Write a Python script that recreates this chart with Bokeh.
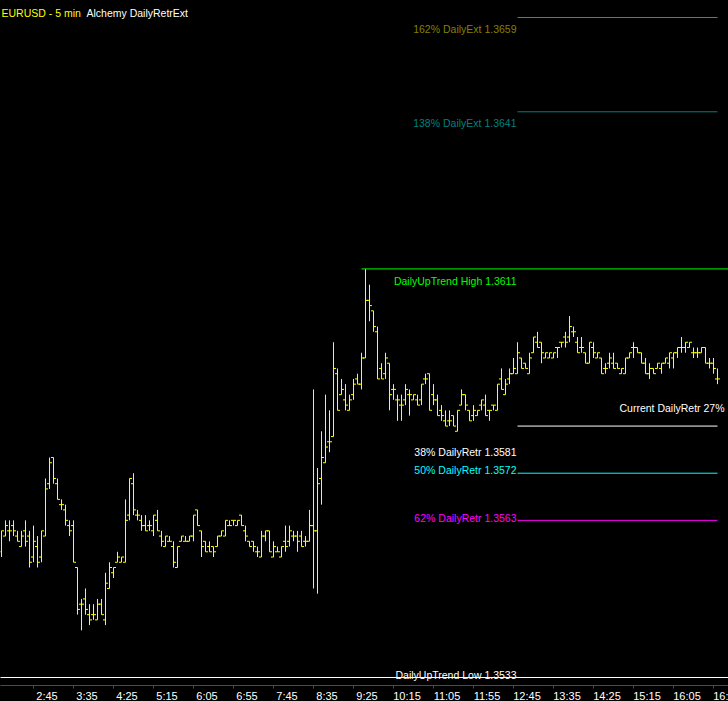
import pandas as pd
from bokeh.plotting import figure
from bokeh.models import ColumnDataSource, FixedTicker, LinearAxis, Range1d, CustomLabelingPolicy
from bokeh.core.properties import value
from bokeh.embed import file_html
from bokeh.resources import INLINE

# ---------------- data ----------------
symbol_title = "EURUSD - 5 min"
indicator_title = "Alchemy DailyRetrExt"
session_start = "2000-01-01 02:05"
bar_minutes = 5

opens = [
    1.3557, 1.3560, 1.3561, 1.3562, 1.3560, 1.3558, 1.3561, 1.3560, 1.3556, 1.3558,
    1.3556, 1.3560, 1.3570, 1.3575, 1.3570, 1.3566, 1.3565, 1.3562, 1.3562, 1.3554,
    1.3547, 1.3548, 1.3545, 1.3545, 1.3544, 1.3547, 1.3544, 1.3550, 1.3553, 1.3555,
    1.3555, 1.3555, 1.3564, 1.3570, 1.3564, 1.3563, 1.3562, 1.3562, 1.3561, 1.3563,
    1.3560, 1.3558, 1.3559, 1.3558, 1.3554, 1.3559, 1.3559, 1.3559, 1.3560, 1.3565,
    1.3561, 1.3559, 1.3558, 1.3558, 1.3558, 1.3560, 1.3560, 1.3562, 1.3563, 1.3562,
    1.3564, 1.3561, 1.3559, 1.3559, 1.3557, 1.3556, 1.3560, 1.3561, 1.3556, 1.3557,
    1.3556, 1.3559, 1.3559, 1.3560, 1.3560, 1.3560, 1.3559, 1.3559, 1.3562, 1.3561,
    1.3571, 1.3574, 1.3578, 1.3579, 1.3591, 1.3587, 1.3586, 1.3584, 1.3587, 1.3590,
    1.3589, 1.3594, 1.3605, 1.3603, 1.3599, 1.3592, 1.3591, 1.3593, 1.3588, 1.3586,
    1.3585, 1.3586, 1.3587, 1.3586, 1.3586, 1.3586, 1.3590, 1.3591, 1.3587, 1.3586,
    1.3584, 1.3582, 1.3582, 1.3583, 1.3580, 1.3585, 1.3587, 1.3584, 1.3583, 1.3583,
    1.3585, 1.3585, 1.3584, 1.3585, 1.3584, 1.3590, 1.3587, 1.3590, 1.3591, 1.3591,
    1.3594, 1.3593, 1.3591, 1.3595, 1.3597, 1.3597, 1.3594, 1.3594, 1.3594, 1.3596,
    1.3597, 1.3598, 1.3598, 1.3599, 1.3597, 1.3596, 1.3595, 1.3593, 1.3596, 1.3594,
    1.3594, 1.3592, 1.3593, 1.3593, 1.3593, 1.3591, 1.3591, 1.3594, 1.3596, 1.3596,
    1.3595, 1.3593, 1.3591, 1.3592, 1.3592, 1.3592, 1.3593, 1.3593, 1.3594, 1.3595,
    1.3596, 1.3596, 1.3596, 1.3595, 1.3595, 1.3595, 1.3596, 1.3593, 1.3593, 1.3590,
]
highs = [
    1.3561, 1.3563, 1.3563, 1.3563, 1.3561, 1.3561, 1.3563, 1.3561, 1.3562, 1.3560,
    1.3561, 1.3571, 1.3575, 1.3575, 1.3571, 1.3567, 1.3566, 1.3563, 1.3563, 1.3554,
    1.3548, 1.3550, 1.3547, 1.3547, 1.3548, 1.3548, 1.3553, 1.3555, 1.3554, 1.3557,
    1.3556, 1.3567, 1.3571, 1.3572, 1.3565, 1.3564, 1.3564, 1.3563, 1.3564, 1.3565,
    1.3561, 1.3560, 1.3560, 1.3559, 1.3558, 1.3560, 1.3560, 1.3560, 1.3564, 1.3565,
    1.3561, 1.3559, 1.3559, 1.3558, 1.3560, 1.3561, 1.3563, 1.3563, 1.3563, 1.3563,
    1.3564, 1.3562, 1.3559, 1.3559, 1.3558, 1.3561, 1.3561, 1.3561, 1.3559, 1.3558,
    1.3558, 1.3562, 1.3562, 1.3561, 1.3561, 1.3561, 1.3560, 1.3565, 1.3588, 1.3573,
    1.3580, 1.3587, 1.3584, 1.3597, 1.3592, 1.3590, 1.3589, 1.3587, 1.3590, 1.3591,
    1.3595, 1.3611, 1.3608, 1.3603, 1.3600, 1.3593, 1.3595, 1.3593, 1.3589, 1.3587,
    1.3587, 1.3589, 1.3588, 1.3587, 1.3587, 1.3589, 1.3591, 1.3591, 1.3589, 1.3587,
    1.3585, 1.3584, 1.3584, 1.3583, 1.3584, 1.3588, 1.3587, 1.3584, 1.3585, 1.3584,
    1.3586, 1.3587, 1.3584, 1.3585, 1.3589, 1.3592, 1.3590, 1.3592, 1.3594, 1.3597,
    1.3594, 1.3593, 1.3595, 1.3598, 1.3599, 1.3597, 1.3595, 1.3595, 1.3595, 1.3596,
    1.3597, 1.3599, 1.3602, 1.3600, 1.3598, 1.3598, 1.3595, 1.3597, 1.3597, 1.3595,
    1.3594, 1.3593, 1.3595, 1.3595, 1.3593, 1.3592, 1.3594, 1.3595, 1.3597, 1.3596,
    1.3595, 1.3594, 1.3593, 1.3592, 1.3593, 1.3593, 1.3594, 1.3595, 1.3595, 1.3596,
    1.3598, 1.3597, 1.3597, 1.3596, 1.3596, 1.3596, 1.3596, 1.3594, 1.3594, 1.3592,
]
lows = [
    1.3556, 1.3560, 1.3559, 1.3560, 1.3559, 1.3558, 1.3558, 1.3554, 1.3555, 1.3554,
    1.3555, 1.3560, 1.3569, 1.3570, 1.3567, 1.3565, 1.3562, 1.3560, 1.3555, 1.3545,
    1.3542, 1.3545, 1.3543, 1.3544, 1.3544, 1.3545, 1.3543, 1.3550, 1.3552, 1.3555,
    1.3555, 1.3555, 1.3563, 1.3564, 1.3563, 1.3561, 1.3561, 1.3561, 1.3560, 1.3561,
    1.3558, 1.3558, 1.3559, 1.3554, 1.3554, 1.3559, 1.3559, 1.3559, 1.3559, 1.3562,
    1.3556, 1.3557, 1.3557, 1.3556, 1.3558, 1.3560, 1.3560, 1.3562, 1.3562, 1.3562,
    1.3562, 1.3559, 1.3558, 1.3557, 1.3556, 1.3556, 1.3559, 1.3557, 1.3556, 1.3557,
    1.3556, 1.3557, 1.3558, 1.3559, 1.3557, 1.3558, 1.3558, 1.3559, 1.3550, 1.3549,
    1.3566, 1.3574, 1.3576, 1.3579, 1.3584, 1.3587, 1.3584, 1.3584, 1.3586, 1.3589,
    1.3588, 1.3594, 1.3601, 1.3599, 1.3590, 1.3590, 1.3590, 1.3584, 1.3586, 1.3582,
    1.3582, 1.3585, 1.3583, 1.3586, 1.3585, 1.3585, 1.3589, 1.3584, 1.3585, 1.3583,
    1.3582, 1.3581, 1.3581, 1.3581, 1.3580, 1.3585, 1.3584, 1.3582, 1.3582, 1.3583,
    1.3584, 1.3583, 1.3582, 1.3584, 1.3584, 1.3588, 1.3587, 1.3589, 1.3591, 1.3591,
    1.3592, 1.3592, 1.3591, 1.3595, 1.3596, 1.3593, 1.3594, 1.3594, 1.3594, 1.3594,
    1.3596, 1.3596, 1.3597, 1.3598, 1.3595, 1.3595, 1.3593, 1.3593, 1.3594, 1.3594,
    1.3591, 1.3591, 1.3592, 1.3592, 1.3592, 1.3591, 1.3591, 1.3594, 1.3594, 1.3595,
    1.3593, 1.3591, 1.3590, 1.3591, 1.3592, 1.3591, 1.3593, 1.3592, 1.3592, 1.3594,
    1.3595, 1.3595, 1.3596, 1.3594, 1.3594, 1.3595, 1.3593, 1.3592, 1.3591, 1.3589,
]
closes = [
    1.3561, 1.3562, 1.3561, 1.3561, 1.3559, 1.3560, 1.3559, 1.3555, 1.3559, 1.3555,
    1.3561, 1.3569, 1.3574, 1.3571, 1.3567, 1.3566, 1.3563, 1.3561, 1.3555, 1.3546,
    1.3547, 1.3546, 1.3544, 1.3545, 1.3547, 1.3545, 1.3551, 1.3554, 1.3554, 1.3556,
    1.3556, 1.3563, 1.3571, 1.3565, 1.3564, 1.3562, 1.3561, 1.3562, 1.3564, 1.3561,
    1.3559, 1.3560, 1.3559, 1.3555, 1.3558, 1.3560, 1.3559, 1.3560, 1.3564, 1.3562,
    1.3558, 1.3557, 1.3557, 1.3557, 1.3560, 1.3561, 1.3563, 1.3562, 1.3563, 1.3563,
    1.3562, 1.3560, 1.3558, 1.3558, 1.3557, 1.3560, 1.3561, 1.3557, 1.3558, 1.3557,
    1.3558, 1.3558, 1.3561, 1.3560, 1.3559, 1.3558, 1.3559, 1.3562, 1.3561, 1.3570,
    1.3575, 1.3577, 1.3578, 1.3592, 1.3584, 1.3588, 1.3585, 1.3586, 1.3589, 1.3589,
    1.3594, 1.3605, 1.3604, 1.3600, 1.3590, 1.3590, 1.3594, 1.3587, 1.3588, 1.3586,
    1.3585, 1.3588, 1.3587, 1.3587, 1.3585, 1.3589, 1.3590, 1.3584, 1.3586, 1.3583,
    1.3583, 1.3581, 1.3582, 1.3581, 1.3584, 1.3587, 1.3585, 1.3582, 1.3584, 1.3584,
    1.3586, 1.3583, 1.3584, 1.3585, 1.3589, 1.3588, 1.3589, 1.3591, 1.3592, 1.3595,
    1.3592, 1.3592, 1.3594, 1.3598, 1.3596, 1.3595, 1.3595, 1.3595, 1.3595, 1.3596,
    1.3597, 1.3597, 1.3600, 1.3599, 1.3595, 1.3596, 1.3593, 1.3597, 1.3595, 1.3595,
    1.3591, 1.3592, 1.3594, 1.3592, 1.3592, 1.3592, 1.3594, 1.3595, 1.3596, 1.3595,
    1.3593, 1.3591, 1.3592, 1.3591, 1.3593, 1.3593, 1.3594, 1.3595, 1.3595, 1.3596,
    1.3596, 1.3597, 1.3597, 1.3595, 1.3595, 1.3596, 1.3593, 1.3593, 1.3592, 1.3590,
]

tick_labels = ["2:45", "3:35", "4:25", "5:15", "6:05", "6:55", "7:45", "8:35", "9:25",
               "10:15", "11:05", "11:55", "12:45", "13:35", "14:25", "15:15", "16:05", "16:55"]

level_names = ["162% DailyExt", "138% DailyExt", "DailyUpTrend High",
               "38% DailyRetr", "50% DailyRetr", "62% DailyRetr", "DailyUpTrend Low"]
level_values = [1.3659, 1.3641, 1.3611, 1.3581, 1.3572, 1.3563, 1.3533]
level_colors = ["#808000", "#008080", "#00ff00", "#ffffff", "#00ffff", "#ff00ff", "#ffffff"]
current_retr_pct = 27

# ---------------- layout / style ----------------
n = len(opens)
idx = list(range(n))
times = pd.date_range(session_start, periods=n, freq=f"{bar_minutes}min")
time_text = [f"{t.hour}:{t.minute:02d}" for t in times]
tick_pos = [time_text.index(lbl) for lbl in tick_labels]

FONT = value("Liberation Sans")
FS = "10.5px"
FW, FH = 728, 685
px_per_bar = 4.0
x_start = -0.25
x_end = x_start + FW / px_per_bar
y_top = 1.3662246
y_bot = 1.3531473

p = figure(frame_width=FW, frame_height=FH, output_backend="svg", toolbar_location=None,
           x_range=Range1d(x_start, x_end), y_range=Range1d(y_bot, y_top),
           x_axis_location=None, y_axis_location=None,
           background_fill_color="black", border_fill_color="black",
           min_border=0, outline_line_color=None)
p.grid.visible = False

# red axis line + ticks (no labels on this axis)
ax_ticks = LinearAxis(ticker=FixedTicker(ticks=tick_pos))
ax_ticks.axis_line_color = "#ff0000"
ax_ticks.major_tick_line_color = "#ff0000"
ax_ticks.major_tick_out = 3
ax_ticks.major_tick_in = 0
ax_ticks.minor_tick_line_color = None
ax_ticks.major_label_text_font_size = "0px"
ax_ticks.major_label_standoff = 0
ax_ticks.major_label_policy = CustomLabelingPolicy(
    code="const all = [...indices]; for (const i of all) indices.unset(i); return indices")
p.add_layout(ax_ticks, "below")

# time labels (drawn just right of each tick); the last one is cut by the chart edge
label_shift = 3.375
lbl_pos = [t + label_shift for t in tick_pos]
shown = list(tick_labels)
shown[-1] = shown[-1][:3]
ax_lbl = LinearAxis(ticker=FixedTicker(ticks=lbl_pos))
ax_lbl.axis_line_color = None
ax_lbl.major_tick_line_color = None
ax_lbl.minor_tick_line_color = None
ax_lbl.major_tick_out = 0
ax_lbl.major_tick_in = 0
ax_lbl.major_label_standoff = 1
ax_lbl.major_label_text_color = "white"
ax_lbl.major_label_text_font = "Liberation Sans"
ax_lbl.major_label_text_font_size = "11px"
ax_lbl.major_label_overrides = {pos: lbl for pos, lbl in zip(lbl_pos, shown)}
p.add_layout(ax_lbl, "below")

# ---------------- OHLC bars ----------------
bars = ColumnDataSource(dict(
    x=idx, o=opens, h=highs, l=lows, c=closes,
    xl=[i - 0.625 for i in idx], xr=[i + 0.625 for i in idx],
))
p.segment(x0="x", y0="l", x1="x", y1="h", source=bars, line_color="#ffff00", line_width=1)
p.segment(x0="xl", y0="o", x1="x", y1="o", source=bars, line_color="#ffff00", line_width=1)
p.segment(x0="x", y0="c", x1="xr", y1="c", source=bars, line_color="#ffff00", line_width=1)

# ---------------- level lines ----------------
last = n - 1
high_idx = highs.index(max(highs))
lvl_start = 129
lvl_x0 = [lvl_start, lvl_start, high_idx - 1, lvl_start, lvl_start, lvl_start, x_start - 1]
lvl_x1 = [last, last, x_end + 1, last, last, last, x_end + 1]
levels = ColumnDataSource(dict(x0=lvl_x0, x1=lvl_x1, y=level_values, color=level_colors))
p.segment(x0="x0", y0="y", x1="x1", y1="y", source=levels, line_color="color", line_width=1)

# labels for the levels
lbl_text = [f"{nm} {v:.4f}" for nm, v in zip(level_names, level_values)]
lbl_yoff = [11, 11, 12, 26, -3, -2, -3]
lbl_src = ColumnDataSource(dict(
    x=[lvl_start] * len(level_values), y=level_values, text=lbl_text,
    color=level_colors, yoff=lbl_yoff,
))
p.text(x="x", y="y", text="text", source=lbl_src, text_color="color",
       text_font=FONT, text_font_size=FS, text_align="right",
       text_baseline="alphabetic", x_offset=-1, y_offset="yoff")

# current retracement label
p.text(x=[last], y=[closes[-1]], text=[f"Current DailyRetr {current_retr_pct}%"],
       text_color="white", text_font=FONT, text_font_size=FS, text_align="right",
       text_baseline="alphabetic", x_offset=7, y_offset=29)

# chart title
p.text(x=[x_start], y=[y_top], text=[symbol_title], text_color="#ffff00",
       text_font=FONT, text_font_size=FS, text_align="left",
       text_baseline="alphabetic", x_offset=1, y_offset=12)
p.text(x=[x_start], y=[y_top], text=[indicator_title], text_color="white",
       text_font=FONT, text_font_size=FS, text_align="left",
       text_baseline="alphabetic", x_offset=86, y_offset=12)

html = file_html(p, INLINE)
html = html.replace("<head>", "<head><style>html,body{margin:0;padding:0;background:#000;overflow:hidden}</style>", 1)
open("out.html", "w").write(html)
